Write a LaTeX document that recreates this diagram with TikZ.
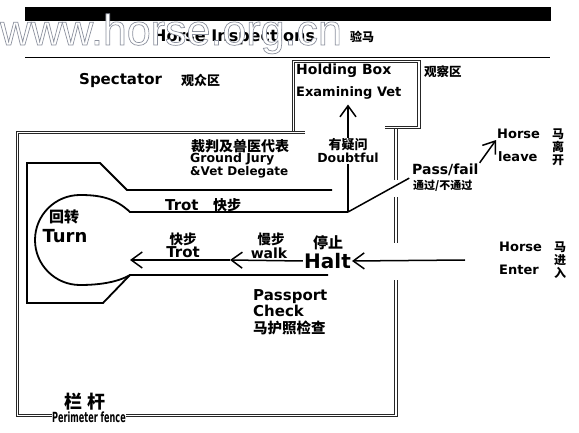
\documentclass[tikz,border=0pt]{standalone}
\usepackage{fontspec}
\setmainfont{DejaVu Sans}
\newfontfamily\cjk{Noto Sans CJK SC}
\newfontfamily\wmfont{Liberation Sans}
\usetikzlibrary{arrows.meta}
\newcommand\setfs[1]{\fontsize{#1}{#1}\selectfont}

\begin{document}
\begin{tikzpicture}[x=1pt,y=-1pt,
  lab/.style={inner sep=1pt,font=\bfseries\setfs{#1}},
  zh/.style={inner sep=1pt,font=\cjk\bfseries\setfs{#1}},
  zhcol/.style={inner sep=1pt,align=center,font={\cjk\bfseries\fontsize{12}{13}\selectfont}},
  track/.style={line width=1.8pt},
  fence/.style={draw=black!85,double,double distance=1.5pt,line width=0.8pt},
  arr/.style={line width=1.5pt,-{Straight Barb[length=11pt,width=16pt,line width=1.5pt]}}]
\useasboundingbox (0,0) rectangle (579,433);

\fill (25,7) rectangle (551,21);
\draw[line width=0.8pt] (25,57) -- (550,57);
\node[lab=16,anchor=west] (title) at (152,37) {Horse Inspections};
\node[zh=12,anchor=west] (titlezh) at (349,37) {验马};
\node[anchor=base west,inner sep=0,text=white,font=\wmfont\setfs{43}] (wmark) at (0,45)
  {\special{pdf:literal direct 2 Tr 0.7 w 0.55 0.57 0.62 RG}www.horse.org.cn\special{pdf:literal direct 0 Tr}};

\node[lab=15,anchor=west] (spect) at (78,80) {Spectator};
\node[zh=13,anchor=west] (spectzh) at (180,80) {观众区};

% holding box and fence
\draw[fence] (293.5,134) -- (293.5,61.5) -- (419,61.5) -- (419,127.5) -- (385,127.5);
\draw[fence] (305,132.5) -- (17.5,132.5) -- (17.5,415.5) -- (396,415.5) -- (396,280);
\draw[fence] (396,243) -- (396,197);
\draw[fence] (396,180) -- (396,129);
\node[lab=14,anchor=west] (holdbox) at (295,71) {Holding Box};
\node[lab=13,anchor=west] (examvet) at (295,93) {Examining Vet};
\node[zh=12.5,anchor=west] (observe) at (423,72) {观察区};

\node[zh=14,anchor=west] (juryzh) at (190,146) {裁判及兽医代表};
\node[lab=12.5,anchor=west] (juryen) at (189,159) {Ground Jury};
\node[lab=12,anchor=west] (vetdel) at (189,172) {\&Vet Delegate};

% track
\coordinate (jct) at (348,212);
\draw[track] (332,190) -- (127,190) -- (100,163) -- (27,163) -- (27,303) -- (103,303) -- (130,275) -- (328,275);
\draw[track] (jct) -- (130,212) .. controls (115,198) and (100,195) .. (80,195)
  .. controls (55.1,195) and (35,215.1) .. (35,240) .. controls (35,264.9) and (55.1,285) .. (80,285)
  .. controls (100,285) and (118,282) .. (130,275);

\node[zh=13] (doubtzh) at (348,145) {有疑问};
\node[lab=12.5] (doubten) at (348,158) {Doubtful};
\draw[track] (jct) -- (doubten.south);
\draw[arr,shorten >=4pt] (doubtzh.north) -- (examvet.south -| jct);

\node[lab=14,anchor=west] (pass) at (411,170) {Pass/fail};
\node[zh=11,anchor=west] (passzh) at (412,186) {通过/不通过};
\draw[line width=1.5pt,shorten >=2pt] (jct) -- (pass.south west);

\node[lab=13,anchor=west] (leaveh) at (496,134) {Horse};
\node[lab=13,anchor=west] (leavel) at (497,157) {leave};
\node[zhcol] (leavezh) at (558,147) {马\\离\\开};
\draw[arr] (pass.north east) -- (leaveh.south west);

\node[lab=13,anchor=west] (enterh) at (498,247) {Horse};
\node[lab=13,anchor=west] (entere) at (498,270) {Enter};
\node[zhcol] (enterzh) at (560,260) {马\\进\\入};

\node[lab=15,anchor=west] (trotup) at (164,205) {Trot};
\node[zh=14,anchor=west] (trotupzh) at (212,205) {快步};
\node[zh=15] (turnzh) at (64,217) {回转};
\node[lab=18] (turn) at (65,236) {Turn};
\node[zh=13.5] (trotzh) at (183,239) {快步};
\node[lab=15] (trot) at (183,252) {Trot};
\node[zh=13.5] (walkzh) at (271,239) {慢步};
\node[lab=14] (walk) at (269,253) {walk};
\node[zh=15] (haltzh) at (328,243) {停止};
\node[lab=20,anchor=east] (halt) at (352,261) {Halt};

\coordinate (enterin) at (465,260);
\coordinate (walkhd) at (230,260);
\coordinate (turnin) at (130,260);
\draw[arr] (enterin) -- (halt.east);
\draw[arr] (halt.west) -- (walkhd);
\draw[arr] (walkhd) -- (turnin);

\node[lab=15,anchor=west] (passport) at (252,297) {Passport};
\node[lab=15,anchor=west] (check) at (252,311) {Check};
\node[zh=14.5,anchor=west] (passportzh) at (252,328) {马护照检查};

\node[zh=18] (fencezh) at (85,402) {栏\hspace{6pt}杆};
\node[lab=14,fill=white,inner sep=0.5pt] (fenceen) at (89,417) {\scalebox{0.58}[1]{Perimeter fence}};
\end{tikzpicture}
\end{document}
